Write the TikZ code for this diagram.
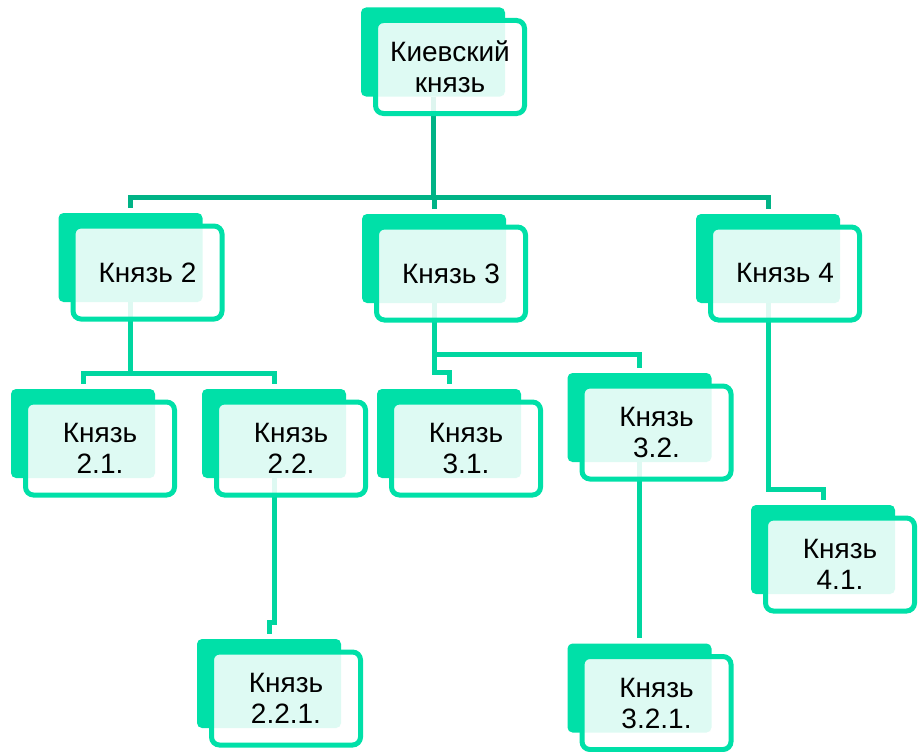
\documentclass[tikz,border=0pt]{standalone}
\usepackage{fontspec}
\setmainfont{Liberation Sans}
\usetikzlibrary{calc}
\definecolor{mint}{HTML}{00E0A8}
\definecolor{linedark}{HTML}{00B386}
\definecolor{linelight}{HTML}{00D6A0}
\tikzset{
 backbox/.style={rectangle, rounded corners=5pt, fill=mint, minimum width=144pt, minimum height=89pt, inner sep=0pt},
 frontbox/.style={rectangle, rounded corners=8pt, draw=mint, line width=5pt, fill=white, fill opacity=0.87, text opacity=1, minimum width=149pt, minimum height=93pt, inner sep=0pt, align=center, font=\fontsize{28}{31}\selectfont, text=black},
 connA/.style={draw=linedark, line width=5pt, shorten >=5pt},
 connB/.style={draw=linelight, line width=5pt, shorten >=5pt},
}
\begin{document}
\begin{tikzpicture}[x=1pt,y=-1pt]
\useasboundingbox (0,0) rectangle (918,752);
% back boxes
\node[backbox] (top) at (433,52) {};
\node[backbox] (k2) at (130.5,257.5) {};
\node[backbox] (k3) at (434,258.5) {};
\node[backbox] (k4) at (768,258.5) {};
\node[backbox] (k21) at (83,433.5) {};
\node[backbox] (k22) at (274,433.5) {};
\node[backbox] (k31) at (449,433.5) {};
\node[backbox] (k32) at (639.5,417.5) {};
\node[backbox] (k221) at (269,683.5) {};
\node[backbox] (k321) at (639.5,688) {};
\node[backbox] (k41) at (823,549.5) {};
% bus coordinates
\coordinate (busA) at (0,197);
\coordinate (bus2) at (0,373);
\coordinate (bus3a) at (0,354);
\coordinate (bus3b) at (0,372);
\coordinate (bus4) at (0,489);
\coordinate (bus22) at (0,622);
% connectors level 1
\draw[connA] (top.south) -- (top.south |- busA) -| (k2.north);
\draw[connA] (top.south |- busA) -| (k3.north);
\draw[connA] (top.south |- busA) -| (k4.north);
% connectors level 2
\draw[connB] (k2.south) -- (k2.south |- bus2) -| (k21.north);
\draw[connB] (k2.south |- bus2) -| (k22.north);
\draw[connB] (k3.south) -- (k3.south |- bus3a) -| (k32.north);
\draw[connB] (k3.south) -- (k3.south |- bus3b) -| (k31.north);
\draw[connB] (k32.south) -- (k321.north);
\draw[connB] (k4.south) -- (k4.south |- bus4) -| (k41.north);
\draw[connB] (k22.south) -- (k22.south |- bus22) -| (k221.north);
% front boxes
\node[frontbox] (topf) at ($(top.center)+(17,15)$) {Киевский\\князь};
\node[frontbox] (k2f) at ($(k2.center)+(17,15)$) {Князь 2};
\node[frontbox] (k3f) at ($(k3.center)+(17,15)$) {Князь 3};
\node[frontbox] (k4f) at ($(k4.center)+(17,15)$) {Князь 4};
\node[frontbox] (k21f) at ($(k21.center)+(17,15)$) {Князь\\2.1.};
\node[frontbox] (k22f) at ($(k22.center)+(17,15)$) {Князь\\2.2.};
\node[frontbox] (k31f) at ($(k31.center)+(17,15)$) {Князь\\3.1.};
\node[frontbox] (k32f) at ($(k32.center)+(17,15)$) {Князь\\3.2.};
\node[frontbox] (k221f) at ($(k221.center)+(17,15)$) {Князь\\2.2.1.};
\node[frontbox] (k321f) at ($(k321.center)+(17,15)$) {Князь\\3.2.1.};
\node[frontbox] (k41f) at ($(k41.center)+(17,15)$) {Князь\\4.1.};
\end{tikzpicture}
\end{document}
